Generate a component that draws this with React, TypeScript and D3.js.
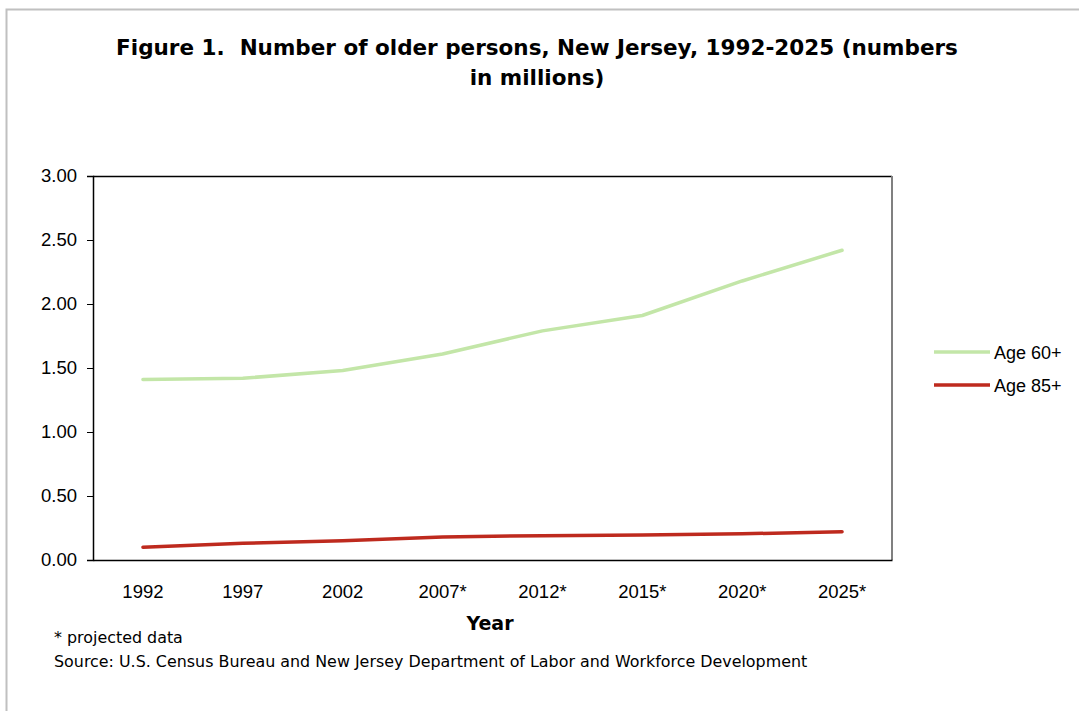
import React, { useEffect, useRef } from "react";
import * as d3 from "d3";

const years = ["1992", "1997", "2002", "2007*", "2012*", "2015*", "2020*", "2025*"];
const age60 = [1.41, 1.42, 1.48, 1.61, 1.79, 1.91, 2.18, 2.42];
const age85 = [0.1, 0.13, 0.15, 0.18, 0.19, 0.195, 0.205, 0.22];
const yTicks = [0, 0.5, 1, 1.5, 2, 2.5, 3];
const seriesNames = ["Age 60+", "Age 85+"];
const seriesColors = ["#c3e6a8", "#be2a1e"];

const W = 1079;
const H = 711;
const plot = { left: 93, top: 176, right: 892, bottom: 560 };

export default function App() {
  const ref = useRef<SVGSVGElement>(null);
  useEffect(() => {
    const svg = d3.select(ref.current);
    svg.selectAll("*").remove();

    // outer frame
    svg.append("path")
      .attr("d", `M6.5,${H} L6.5,9.5 L${W},9.5`)
      .attr("fill", "none")
      .attr("stroke", "#c0c0c0")
      .attr("stroke-width", 2);

    // title
    const title = svg.append("text")
      .attr("font-family", "'DejaVu Sans', Verdana, sans-serif")
      .attr("font-weight", "bold")
      .attr("font-size", 21.5)
      .attr("text-anchor", "middle")
      .attr("fill", "#000");
    title.append("tspan").attr("x", 537).attr("y", 55)
      .text("Figure 1.\u00a0 Number of older persons, New Jersey, 1992-2025 (numbers");
    title.append("tspan").attr("x", 537).attr("y", 85).text("in millions)");

    const x = d3.scaleBand<string>().domain(years).range([plot.left, plot.right]);
    const y = d3.scaleLinear().domain([0, 3]).range([plot.bottom, plot.top]);

    // plot frame
    svg.append("line")
      .attr("x1", plot.left).attr("x2", plot.right)
      .attr("y1", plot.top + 0.5).attr("y2", plot.top + 0.5)
      .attr("stroke", "#000").attr("stroke-width", 1.5);
    svg.append("line")
      .attr("x1", plot.right).attr("x2", plot.right)
      .attr("y1", plot.top).attr("y2", plot.bottom)
      .attr("stroke", "#808080").attr("stroke-width", 2);

    // y axis
    const yAxis = svg.append("g").attr("transform", `translate(${plot.left},0)`)
      .call(d3.axisLeft(y).tickValues(yTicks).tickFormat(d3.format(".2f")).tickSize(6).tickPadding(10));
    yAxis.select(".domain").attr("stroke", "#000").attr("stroke-width", 1.5);
    yAxis.selectAll(".tick line").attr("stroke", "#000");
    yAxis.selectAll("text")
      .attr("font-family", "'Liberation Sans', Arial, sans-serif")
      .attr("font-size", 18.5).attr("fill", "#000");

    // x axis
    const xAxis = svg.append("g").attr("transform", `translate(0,${plot.bottom})`)
      .call(d3.axisBottom(x).tickSize(0).tickPadding(25));
    xAxis.select(".domain").attr("stroke", "#000").attr("stroke-width", 1.5);
    xAxis.selectAll("text")
      .attr("font-family", "'Liberation Sans', Arial, sans-serif")
      .attr("font-size", 18.5).attr("fill", "#000");

    // lines
    const line = d3.line<number>()
      .x((_, i) => (x(years[i]) as number) + x.bandwidth() / 2)
      .y((d) => y(d));
    [age60, age85].forEach((s, i) => {
      svg.append("path")
        .attr("d", line(s) as string)
        .attr("fill", "none")
        .attr("stroke", seriesColors[i])
        .attr("stroke-width", 3.5)
        .attr("stroke-linecap", "round")
        .attr("stroke-linejoin", "round");
    });

    // axis title
    svg.append("text")
      .attr("x", 490).attr("y", 630)
      .attr("text-anchor", "middle")
      .attr("font-family", "'DejaVu Sans', Verdana, sans-serif")
      .attr("font-weight", "bold").attr("font-size", 19)
      .text("Year");

    // footnotes
    svg.append("text")
      .attr("x", 54).attr("y", 643)
      .attr("font-family", "'DejaVu Sans', Verdana, sans-serif")
      .attr("font-size", 15.9)
      .text("* projected data");
    svg.append("text")
      .attr("x", 54).attr("y", 667)
      .attr("font-family", "'DejaVu Sans', Verdana, sans-serif")
      .attr("font-size", 15.9)
      .text("Source: U.S. Census Bureau and New Jersey Department of Labor and Workforce Development");

    // legend
    seriesNames.forEach((n, i) => {
      const ly = 352 + i * 33;
      svg.append("line")
        .attr("x1", 934).attr("x2", 990)
        .attr("y1", ly).attr("y2", ly)
        .attr("stroke", seriesColors[i]).attr("stroke-width", 3.5);
      svg.append("text")
        .attr("x", 994).attr("y", ly + 7)
        .attr("font-family", "'Liberation Sans', Arial, sans-serif")
        .attr("font-size", 18)
        .text(n);
    });
  }, []);

  return (
    <svg
      ref={ref}
      width={W}
      height={H}
      style={{ position: "absolute", left: 0, top: 0, background: "#fff" }}
    />
  );
}
